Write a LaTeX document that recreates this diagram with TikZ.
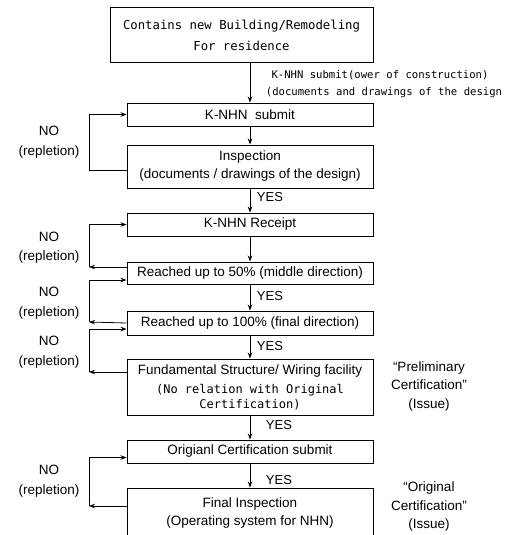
\documentclass[tikz,border=0pt]{standalone}
\usepackage{fontspec}
\setmainfont{Liberation Sans}
\newfontfamily\gul{DejaVu Sans Mono}
\usetikzlibrary{arrows.meta}
\begin{document}
\begin{tikzpicture}[x=1pt,y=-1pt,
  box/.style={draw, line width=1pt, minimum width=246pt, inner sep=0pt,
    font=\fontsize{13.5}{18}\selectfont, align=center},
  arr/.style={-{Stealth[length=6pt,width=4.5pt]}, line width=0.8pt},
  ln/.style={line width=0.8pt},
  lbl/.style={font=\fontsize{13.5}{19.5}\selectfont, align=center, inner sep=0pt},
  yes/.style={font=\fontsize{13}{15}\selectfont, inner sep=0pt},
  side/.style={font=\fontsize{13.5}{18.5}\selectfont, align=center, inner sep=0pt},
  mono/.style={font=\gul\fontsize{10.6}{18}\selectfont, inner sep=0pt}
]
\clip (0,0) rectangle (504,535);
\useasboundingbox (0,0) rectangle (504,535);

% boxes
\node[box, minimum width=263pt, minimum height=55pt,
      font=\gul\fontsize{12.3}{21}\selectfont] (top) at (241.5,35.5)
      {Contains new Building/Remodeling\\For residence};
\node[box, minimum height=23pt] (submit) at (250,114.5) {K-NHN\ \ submit};
\node[box, minimum height=43pt] (insp) at (250,166.5)
      {Inspection\\(documents / drawings of the design)};
\node[box, minimum height=23pt] (receipt) at (250,224.5) {K-NHN Receipt};
\node[box, minimum height=22pt] (r50) at (250,273) {Reached up to 50\% (middle direction)};
\node[box, minimum height=24pt] (r100) at (250,323) {Reached up to 100\% (final direction)};
\node[box, minimum height=56pt] (fund) at (250,387)
      {Fundamental Structure/ Wiring facility\\[1pt]
       {\gul\fontsize{12}{15}\selectfont (No relation with Original}\\[-3pt]
       {\gul\fontsize{12}{15}\selectfont Certification)}};
\node[box, minimum height=23pt] (orig) at (250,451.5) {Origianl Certification submit};
\node[box, minimum height=51pt] (final) at (250,513.5)
      {Final Inspection\\(Operating system for NHN)};

% main column arrows
\draw[arr] (top.south -| submit.north) -- (submit.north);
\draw[arr] (submit) -- (insp);
\draw[arr] (insp) -- (receipt);
\draw[arr] (receipt) -- (r50);
\draw[arr] (r50) -- (r100);
\draw[arr] (r100) -- (fund);
\draw[arr] (fund) -- (orig);
\draw[arr] (orig) -- (final);

% labels on main column
\node[mono] (t1) at (380,75) {K-NHN submit(ower of construction)};
\node[mono] (t2) at (384,93) {(documents and drawings of the design};
\node[yes] (y1) at (270,197) {YES};
\node[yes] (y2) at (270,296) {YES};
\node[yes] (y3) at (270,346) {YES};
\node[yes] (y4) at (279,425) {YES};
\node[yes] (y5) at (279,480) {YES};

% loops
\coordinate (L1) at (89,170);
\draw[ln] ([yshift=-3.5pt]insp.west) -- (L1);
\draw[arr] (L1) |- (submit.west);

\coordinate (L2) at (89,267);
\draw[arr] ([yshift=6pt]r50.west) -- (L2);
\draw[arr] (L2) |- (receipt.west);

\coordinate (L3) at (89,322);
\draw[arr] (r100.west) -- (L3);
\draw[arr] (L3) |- ([yshift=-7pt]r50.west);

\coordinate (L4) at (89,372);
\draw[arr] (fund.west |- L4) -- (L4);
\draw[arr] (L4) |- ([yshift=-6pt]r100.west);

\coordinate (L5) at (89,506);
\draw[arr] (final.west |- L5) -- (L5);
\draw[arr] (L5) |- ([yshift=-6pt]orig.west);

% NO labels
\node[lbl] (n1) at (49,142) {NO\\(repletion)};
\node[lbl] (n2) at (49,247.5) {NO\\(repletion)};
\node[lbl] (n3) at (49,303) {NO\\(repletion)};
\node[lbl] (n4) at (49,352) {NO\\(repletion)};
\node[lbl] (n5) at (49,481) {NO\\(repletion)};

% side labels
\node[side] (s1) at (429,386.5) {“Preliminary\\Certification”\\(Issue)};
\node[side] (s2) at (429,506.5) {“Original\\Certification”\\(Issue)};
\end{tikzpicture}
\end{document}
